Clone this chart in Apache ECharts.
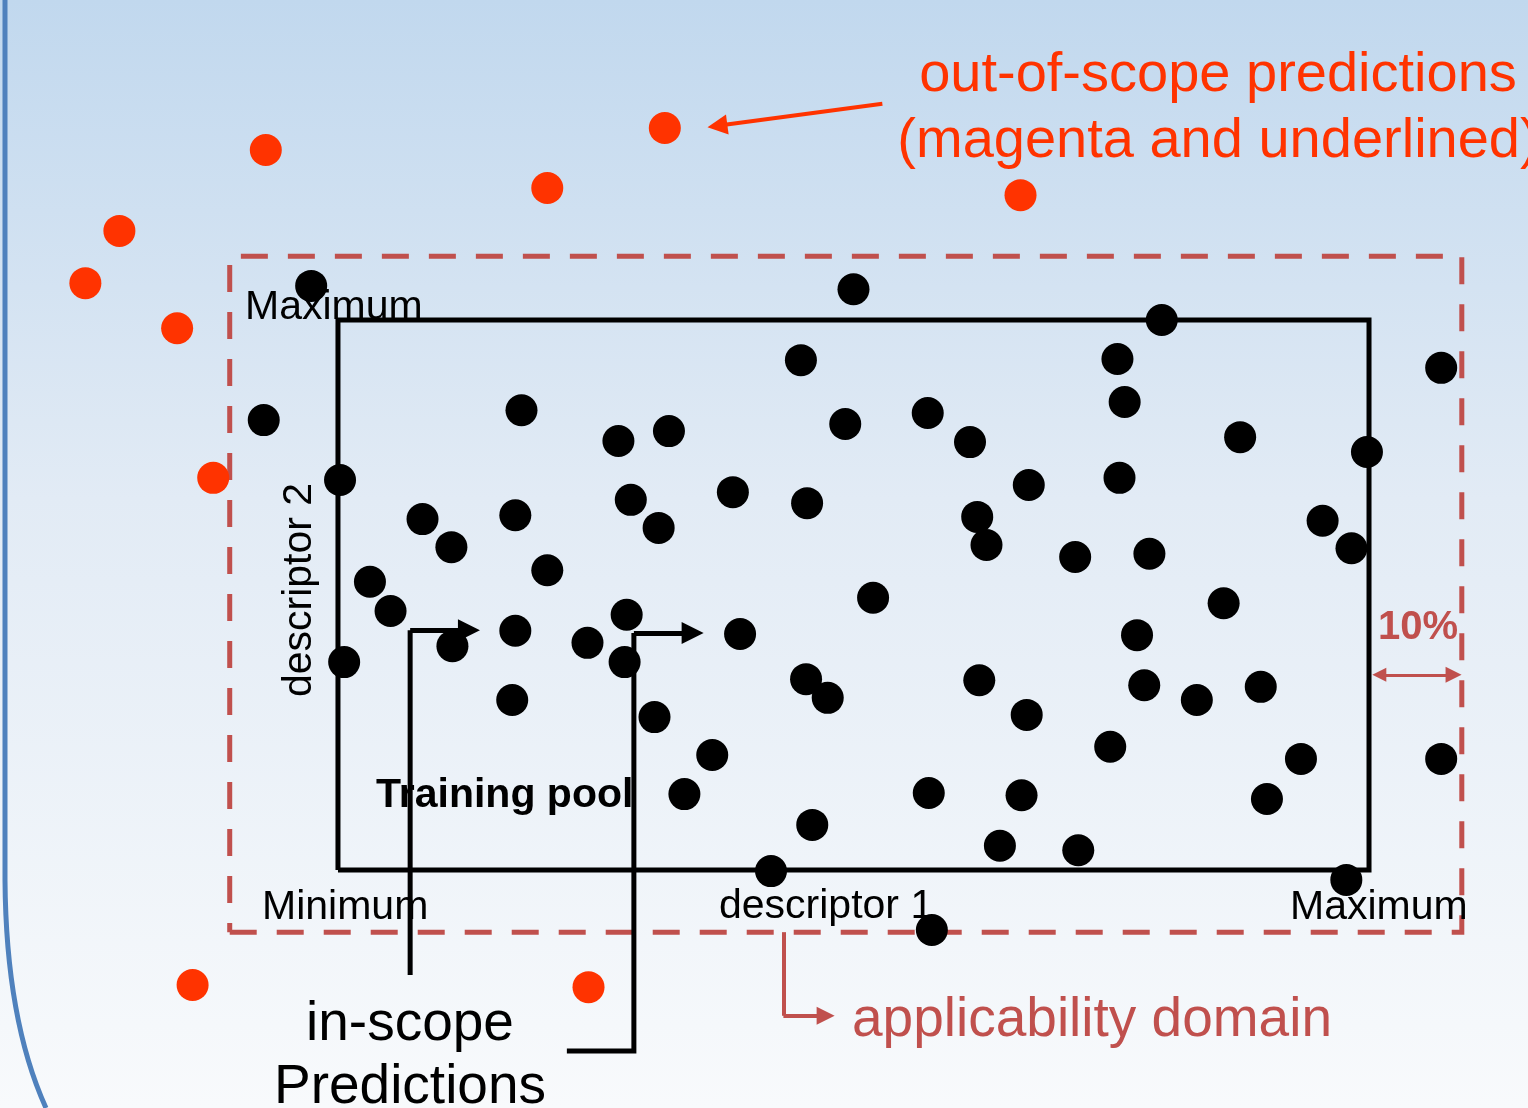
<!DOCTYPE html>
<html><head><meta charset="utf-8">
<script src="https://cdn.jsdelivr.net/npm/echarts@6/dist/echarts.min.js"></script>
<style>html,body{margin:0;padding:0;overflow:hidden;}#c{width:1528px;height:1108px;}</style>
</head><body><div id="c"></div>
<script>
// descriptor units: training pool spans 0..100 on both descriptors
const trainingBox = [[0,0],[100,0],[100,100],[0,100],[0,0]];
const domainBox = [[-10.5,-11.3],[109,-11.3],[109,111.6],[-10.5,111.6],[-10.5,-11.3]];
const inScopePoints = [
  [-2.6,106.2],[50.0,105.6],[79.9,100.0],[44.9,92.7],[75.6,92.9],[107.0,91.3],
  [-7.2,81.8],[17.8,83.6],[76.3,85.1],[27.2,78.0],[32.1,79.8],[49.2,81.1],
  [57.2,83.1],[61.3,77.8],[87.5,78.7],[0.2,70.9],[99.8,76.0],[38.3,68.7],
  [45.5,66.7],[67.0,70.0],[75.8,71.3],[8.2,63.8],[11.0,58.7],[17.2,64.5],
  [28.4,67.3],[31.1,62.2],[62.0,64.2],[62.9,59.1],[95.5,63.5],[98.3,58.5],
  [71.5,56.9],[78.7,57.5],[3.1,52.4],[5.1,47.1],[20.3,54.5],[51.9,49.5],
  [85.9,48.5],[28.0,46.4],[17.2,43.5],[11.1,40.7],[24.2,41.3],[39.0,42.9],
  [27.8,37.8],[0.6,37.8],[77.5,42.7],[45.4,34.7],[47.5,31.3],[62.2,34.5],
  [78.2,33.6],[83.3,30.9],[89.5,33.3],[16.9,30.9],[30.7,27.8],[66.8,28.2],
  [36.3,20.9],[74.9,22.4],[93.4,20.2],[107.0,20.2],[33.6,13.8],[57.3,14.0],
  [66.3,13.6],[90.1,12.9],[46.0,8.2],[64.2,4.4],[71.8,3.6],[42.0,-0.2],
  [97.8,-1.8],[57.6,-10.9]
];
const outOfScopePoints = [
  [-7.0,130.9],[20.3,124.0],[31.7,134.9],[66.2,122.7],[-21.2,116.2],
  [-24.5,106.7],[-15.6,98.5],[-12.1,71.3],[-14.1,-20.9],[24.3,-21.3]
];
const inScopeArrowBodies = [
  [[7.0,-19.1],[7.0,43.6]],
  [[22.2,-32.9],[28.7,-32.9],[28.7,43.1]]
];
const inScopeArrowHeads = [
  [[7.0,43.6],[12.7,43.6]],
  [[28.7,43.1],[34.4,43.1]]
];
const domainArrowBody = [[43.2,-11.3],[43.2,-26.5]];
const domainArrowHead = [[43.2,-26.5],[47.3,-26.5]];
const outArrow = [[52.8,139.3],[36.8,135.3]];
const marginArrow = [[101.0,35.5],[108.2,35.5]];

const FONT = '"Liberation Sans", Arial, Helvetica, sans-serif';
const RED = '#ff3300', BROWN = '#c0504d';

const chart = echarts.init(document.getElementById('c'), null, {renderer:'canvas'});
function txt(text, x, y, size, color, opts) {
  opts = opts || {};
  return {
    type: 'text', x: x, y: y, z: 3, rotation: opts.rotation || 0,
    style: {
      text: text, x: 0, y: 0, fill: color,
      font: (opts.bold ? 'bold ' : '') + size + 'px ' + FONT,
      align: opts.align || 'left', verticalAlign: 'middle',
      lineHeight: opts.lineHeight
    }
  };
}
chart.setOption({
  animation: false,
  backgroundColor: {type:'linear', x:0, y:0, x2:0, y2:1, colorStops:[
    {offset:0, color:'#c1d8ee'},{offset:0.45, color:'#e2ebf5'},{offset:1, color:'#f8fafc'}]},
  grid: {left:0, right:0, top:0, bottom:0, containLabel:false},
  xAxis: {type:'value', min:-32.78, max:115.42, show:false},
  yAxis: {type:'value', min:-43.27, max:158.18, show:false},
  graphic: [
    {type:'line', z:1, shape:{x1:5, y1:0, x2:5, y2:880},
      style:{stroke:'#4f81bd', lineWidth:5}},
    {type:'bezierCurve', z:1, shape:{x1:5, y1:880, x2:46, y2:1108, cpx1:6, cpy1:1020},
      style:{stroke:'#4f81bd', lineWidth:5, fill:null}},
    txt('out-of-scope predictions\n(magenta and underlined)', 1218, 109, 56, RED, {align:'center', lineHeight:66}),
    txt('Maximum', 245, 308, 41, '#000'),
    txt('Minimum', 262, 908, 41, '#000'),
    txt('descriptor 1', 719, 907, 41, '#000'),
    txt('Maximum', 1290, 908, 41, '#000'),
    txt('descriptor 2', 300, 590, 41, '#000', {align:'center', rotation:Math.PI/2}),
    txt('Training pool', 376, 796, 41, '#000', {bold:true}),
    txt('in-scope\nPredictions', 410, 1056, 55, '#000', {align:'center', lineHeight:63}),
    txt('applicability domain', 852, 1021, 55, BROWN),
    txt('10%', 1378, 628, 40, BROWN, {bold:true})
  ],
  series: [
    {type:'lines', coordinateSystem:'cartesian2d', polyline:true, z:2, silent:true,
      lineStyle:{color:BROWN, width:5, type:[27,20], opacity:1},
      data:[{coords:domainBox}]},
    {type:'lines', coordinateSystem:'cartesian2d', polyline:true, z:2, silent:true,
      lineStyle:{color:'#000', width:5, opacity:1},
      data:[{coords:trainingBox}]},
    {type:'scatter', z:4, symbol:'circle', symbolSize:32, itemStyle:{color:'#000', opacity:1},
      data:inScopePoints},
    {type:'scatter', z:4, symbol:'circle', symbolSize:32, itemStyle:{color:RED, opacity:1},
      data:outOfScopePoints},
    {type:'lines', coordinateSystem:'cartesian2d', polyline:true, z:5, silent:true,
      lineStyle:{color:'#000', width:5, opacity:1},
      data:inScopeArrowBodies.map(c => ({coords:c}))},
    {type:'lines', coordinateSystem:'cartesian2d', z:5, silent:true,
      symbol:['none','triangle'], symbolSize:[18,22],
      lineStyle:{color:'#000', width:5, opacity:1},
      data:inScopeArrowHeads.map(c => ({coords:c}))},
    {type:'lines', coordinateSystem:'cartesian2d', z:5, silent:true,
      lineStyle:{color:BROWN, width:4, opacity:1},
      data:[{coords:domainArrowBody}]},
    {type:'lines', coordinateSystem:'cartesian2d', z:5, silent:true,
      symbol:['none','triangle'], symbolSize:[16,18],
      lineStyle:{color:BROWN, width:4, opacity:1},
      data:[{coords:domainArrowHead}]},
    {type:'lines', coordinateSystem:'cartesian2d', z:5, silent:true,
      symbol:['none','triangle'], symbolSize:[16,20],
      lineStyle:{color:RED, width:4, opacity:1},
      data:[{coords:outArrow}]},
    {type:'lines', coordinateSystem:'cartesian2d', z:5, silent:true,
      symbol:['triangle','triangle'], symbolSize:[14,16],
      lineStyle:{color:BROWN, width:3, opacity:1},
      data:[{coords:marginArrow}]}
  ]
});
</script></body></html>
